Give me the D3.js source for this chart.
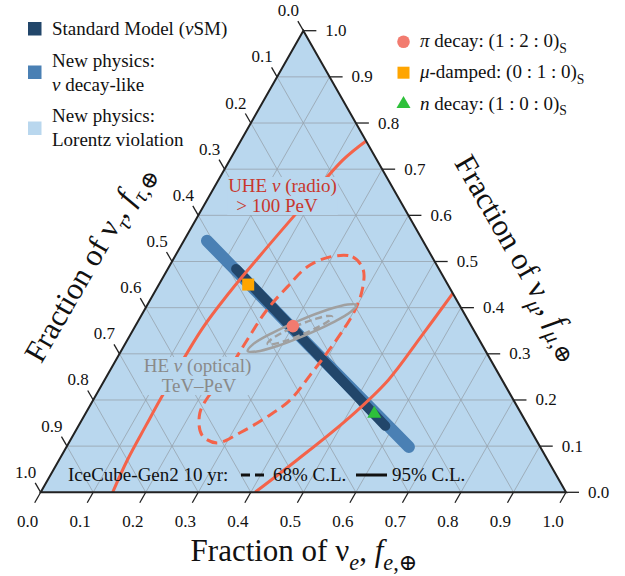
<!DOCTYPE html>
<html><head><meta charset="utf-8">
<script src="https://cdn.jsdelivr.net/npm/d3@7"></script>
<style>
body{margin:0;background:#fff}
svg{display:block}
text{font-family:"Liberation Serif","DejaVu Serif",serif;fill:#111}
</style>
</head><body>
<svg id="chart" width="625" height="576" font-family="Liberation Serif, DejaVu Serif, serif"></svg>
<script>
// ---------------- data ----------------
const tickValues = [0,0.1,0.2,0.3,0.4,0.5,0.6,0.7,0.8,0.9,1.0];
const tickLabels = ["0.0","0.1","0.2","0.3","0.4","0.5","0.6","0.7","0.8","0.9","1.0"];

// source flavour points at Earth (fe, fmu)
const sourceNames = ["π decay","μ-damped","n decay"];
const sourceFe  = [0.30, 0.17, 0.55];
const sourceFmu = [0.36, 0.45, 0.17];

// nu decay-like band (fe, fmu)
const decayFe  = [0.044, 0.348, 0.652];
const decayFmu = [0.545, 0.321, 0.098];
// Standard Model band
const smFe  = [0.130, 0.357, 0.584];
const smFmu = [0.484, 0.314, 0.144];

// UHE (radio) 95% C.L. contour, two visible arcs
const uheA_fe  = [0.239, 0.2155, 0.187, 0.161, 0.143, 0.130, 0.127, 0.128, 0.130, 0.137];
const uheA_fmu = [0.761, 0.720, 0.614, 0.512, 0.434, 0.352, 0.215, 0.146, 0.070, 0.0];
const uheB_fe  = [0.569, 0.555, 0.540, 0.507, 0.453, 0.408];
const uheB_fmu = [0.431, 0.334, 0.243, 0.163, 0.070, 0.0];
// UHE (radio) 68% C.L. contour
const uhe68_fe  = [0.296,0.339,0.373,0.393,0.401,0.400,0.394,0.386,0.375,0.349,0.315,0.282,0.245,0.217,0.217,0.225,0.228,0.233,0.247,0.263];
const uhe68_fmu = [0.510,0.510,0.482,0.438,0.395,0.352,0.302,0.254,0.200,0.163,0.129,0.107,0.124,0.172,0.222,0.272,0.330,0.395,0.445,0.488];
// HE (optical) 95% C.L. contour
const he95_fe  = [0.398,0.395,0.371,0.333,0.292,0.259,0.241,0.244,0.268,0.306,0.347,0.381];
const he95_fmu = [0.406,0.391,0.367,0.340,0.317,0.305,0.306,0.321,0.345,0.372,0.395,0.407];
// HE (optical) 68% C.L. contour
const he68_fe  = [0.364,0.363,0.349,0.327,0.302,0.282,0.271,0.273,0.287,0.309,0.334,0.354];
const he68_fmu = [0.381,0.372,0.358,0.342,0.328,0.321,0.322,0.331,0.346,0.362,0.375,0.382];

// ---------------- layout ----------------
const svg = d3.select("#chart");
const X0 = 40.7, X1 = 566, YB = 492.3, YT = 30.7;
const xS = d3.scaleLinear().domain([0,1]).range([X0, X1]);
const yS = d3.scaleLinear().domain([0,1]).range([YB, YT]);
const P = (fe, fm) => [xS(fe + fm/2), yS(fm)];

const FILL = "#b9d7ee", SM = "#22466a", DECAY = "#4a80b4", RED = "#f4634a";
const zip = (a,b) => a.map((v,i)=>[v,b[i]]);

// triangle background
const tri = [P(0,0), P(1,0), P(0,1)];
svg.append("defs").append("clipPath").attr("id","triclip")
  .append("polygon").attr("points", tri.map(p=>p.join(",")).join(" "));
svg.append("polygon").attr("points", tri.map(p=>p.join(",")).join(" ")).attr("fill", FILL);

// grid
const grid = svg.append("g").attr("stroke","#8f979e").attr("stroke-width",0.8).attr("opacity",0.8);
tickValues.slice(1,-1).forEach(v=>{
  [[P(v,0),P(v,1-v)],[P(0,v),P(1-v,v)],[P(1-v,0),P(0,1-v)]].forEach(s=>{
    grid.append("line").attr("x1",s[0][0]).attr("y1",s[0][1]).attr("x2",s[1][0]).attr("y2",s[1][1]);
  });
});

const line = d3.line().x(d=>P(d[0],d[1])[0]).y(d=>P(d[0],d[1])[1]);
const clipG = svg.append("g").attr("clip-path","url(#triclip)");

// bands
clipG.append("path").attr("d", line(zip(decayFe,decayFmu))).attr("fill","none")
  .attr("stroke",DECAY).attr("stroke-width",12).attr("stroke-linecap","round");
clipG.append("path").attr("d", line(zip(smFe,smFmu))).attr("fill","none")
  .attr("stroke",SM).attr("stroke-width",10).attr("stroke-linecap","round");

// red contours
const smooth = d3.line().curve(d3.curveCatmullRom).x(d=>P(d[0],d[1])[0]).y(d=>P(d[0],d[1])[1]);
const closed = d3.line().curve(d3.curveCatmullRomClosed).x(d=>P(d[0],d[1])[0]).y(d=>P(d[0],d[1])[1]);
[zip(uheA_fe,uheA_fmu), zip(uheB_fe,uheB_fmu)].forEach(pts=>{
  clipG.append("path").attr("d", smooth(pts)).attr("fill","none").attr("stroke",RED).attr("stroke-width",3);
});
clipG.append("path").attr("d", closed(zip(uhe68_fe,uhe68_fmu))).attr("fill","none")
  .attr("stroke",RED).attr("stroke-width",3).attr("stroke-dasharray","11,6");
// gray contours
clipG.append("path").attr("d", closed(zip(he95_fe,he95_fmu))).attr("fill","none")
  .attr("stroke","#a0a0a0").attr("stroke-width",2.5);
clipG.append("path").attr("d", closed(zip(he68_fe,he68_fmu))).attr("fill","none")
  .attr("stroke","#a0a0a0").attr("stroke-width",2.5).attr("stroke-dasharray","7,4");

// markers
const markerColors = ["#f27b6f","#ffa500","#2ec03a"];
const drawMarker = (g, i, x, y) => {
  if (i===0) g.append("circle").attr("cx",x).attr("cy",y).attr("r",6.3).attr("fill",markerColors[0]);
  else if (i===1) g.append("rect").attr("x",x-6).attr("y",y-6).attr("width",12).attr("height",12).attr("fill",markerColors[1]);
  else g.append("path").attr("d", d3.symbol(d3.symbolTriangle, 85)()).attr("transform",`translate(${x},${y})`).attr("fill",markerColors[2]);
};
sourceFe.forEach((fe,i)=>{ const p = P(fe, sourceFmu[i]); drawMarker(svg, i, p[0], p[1]); });

// border
svg.append("polygon").attr("points", tri.map(p=>p.join(",")).join(" "))
  .attr("fill","none").attr("stroke","#222").attr("stroke-width",2).attr("stroke-linejoin","miter");

// ticks
const tk = svg.append("g").attr("stroke","#222").attr("stroke-width",1.3);
const lab = svg.append("g").attr("font-size",17).attr("font-family","Liberation Serif, DejaVu Serif, serif");
tickValues.forEach((v,i)=>{
  // bottom: fe
  let p = P(v,0);
  tk.append("line").attr("x1",p[0]).attr("y1",p[1]).attr("x2",p[0]-6).attr("y2",p[1]+10.5);
  lab.append("text").attr("x",p[0]-13).attr("y",p[1]+29).attr("text-anchor","middle").attr("dominant-baseline","central").text(tickLabels[i]);
  // right: fmu
  p = P(1-v, v);
  tk.append("line").attr("x1",p[0]).attr("y1",p[1]).attr("x2",p[0]+13).attr("y2",p[1]);
  lab.append("text").attr("x",p[0]+22).attr("y",p[1]).attr("dominant-baseline","central").text(tickLabels[i]);
  // left: ftau
  p = P(0, 1-v);
  tk.append("line").attr("x1",p[0]).attr("y1",p[1]).attr("x2",p[0]-5.5).attr("y2",p[1]-9.5);
  lab.append("text").attr("x",p[0]-15).attr("y",p[1]-20).attr("text-anchor","middle").attr("dominant-baseline","central").text(tickLabels[i]);
});

// rich text helper
function rich(sel, segs, fs){
  let shift = 0;
  segs.forEach(s=>{
    const target = s.sub ? fs*0.28 : 0;
    const ts = sel.append("tspan").text(s.t);
    if (target !== shift){ ts.attr("dy", target - shift); shift = target; }
    if (s.sub) ts.attr("font-size", fs*0.72);
    if (s.it) ts.attr("font-style","italic");
  });
  return sel;
}

// axis titles
const TF = 31;
rich(svg.append("text").attr("x",304).attr("y",561).attr("text-anchor","middle").attr("font-size",TF),
  [{t:"Fraction of ν"},{t:"e",sub:1,it:1},{t:", "},{t:"f",it:1},{t:"e",sub:1,it:1},{t:",⊕",sub:1}], TF);
rich(svg.append("text").attr("transform","translate(97,268) rotate(-60)").attr("text-anchor","middle").attr("font-size",TF),
  [{t:"Fraction of ν"},{t:"τ",sub:1,it:1},{t:", "},{t:"f",it:1},{t:"τ",sub:1,it:1},{t:",⊕",sub:1}], TF);
rich(svg.append("text").attr("transform","translate(511,262) rotate(60)").attr("text-anchor","middle").attr("font-size",TF),
  [{t:"Fraction of ν"},{t:"μ",sub:1,it:1},{t:", "},{t:"f",it:1},{t:"μ",sub:1,it:1},{t:",⊕",sub:1}], TF);

// left legend
const LF = 19;
const legColors = [SM, DECAY, FILL];
const legLines = [
  [[{t:"Standard Model ("},{t:"ν",it:1},{t:"SM)"}]],
  [[{t:"New physics:"}],[{t:"ν",it:1},{t:" decay-like"}]],
  [[{t:"New physics:"}],[{t:"Lorentz violation"}]]
];
const legSwY = [22, 65.5, 121.5];
const legTextY = [[35],[67,90.5],[122,146]];
legColors.forEach((c,i)=>{
  svg.append("rect").attr("x",28).attr("y",legSwY[i]).attr("width",13.5).attr("height",13.5).attr("fill",c);
  legLines[i].forEach((segs,j)=>{
    rich(svg.append("text").attr("x",52).attr("y",legTextY[i][j]).attr("font-size",LF), segs, LF);
  });
});

// right legend
const srcLegend = [
  [{t:"π",it:1},{t:" decay: (1 : 2 : 0)"},{t:"S",sub:1}],
  [{t:"μ",it:1},{t:"-damped: (0 : 1 : 0)"},{t:"S",sub:1}],
  [{t:"n",it:1},{t:" decay: (1 : 0 : 0)"},{t:"S",sub:1}]
];
const srcLegY = [41.7, 72.7, 104];
srcLegend.forEach((segs,i)=>{
  drawMarker(svg, i, 403.5, srcLegY[i]);
  rich(svg.append("text").attr("x",420).attr("y",srcLegY[i]+5.5).attr("font-size",LF), segs, LF);
});

// annotations with background boxes
function boxedText(lines, color){
  const g = svg.append("g");
  const bg = g.append("rect").attr("fill",FILL);
  lines.forEach(l=>{
    rich(g.append("text").attr("x",l.x).attr("y",l.y).attr("text-anchor","middle").attr("font-size",LF).style("fill",color), l.segs, LF)
      .selectAll("tspan").style("fill",color);
  });
  const bb = g.node().getBBox();
  bg.attr("x",bb.x-1).attr("y",bb.y+2).attr("width",bb.width+2).attr("height",bb.height-3);
}
boxedText([
  {x:282.5,y:192,segs:[{t:"UHE "},{t:"ν",it:1},{t:" (radio)"}]},
  {x:277,y:212,segs:[{t:"> 100 PeV"}]}
], "#c8372d");
boxedText([
  {x:197.5,y:372,segs:[{t:"HE "},{t:"ν",it:1},{t:" (optical)"}]},
  {x:199,y:392,segs:[{t:"TeV–PeV"}]}
], "#8a8a8a");

// bottom legend
rich(svg.append("text").attr("x",68).attr("y",481).attr("font-size",LF), [{t:"IceCube-Gen2 10 yr:"}], LF);
svg.append("line").attr("x1",241).attr("x2",269).attr("y1",475).attr("y2",475).attr("stroke","#111").attr("stroke-width",3).attr("stroke-dasharray","9,5");
rich(svg.append("text").attr("x",273).attr("y",481).attr("font-size",LF), [{t:"68% C.L."}], LF);
svg.append("line").attr("x1",356).attr("x2",387).attr("y1",475).attr("y2",475).attr("stroke","#111").attr("stroke-width",3);
rich(svg.append("text").attr("x",392).attr("y",481).attr("font-size",LF), [{t:"95% C.L."}], LF);
</script>
</body></html>
